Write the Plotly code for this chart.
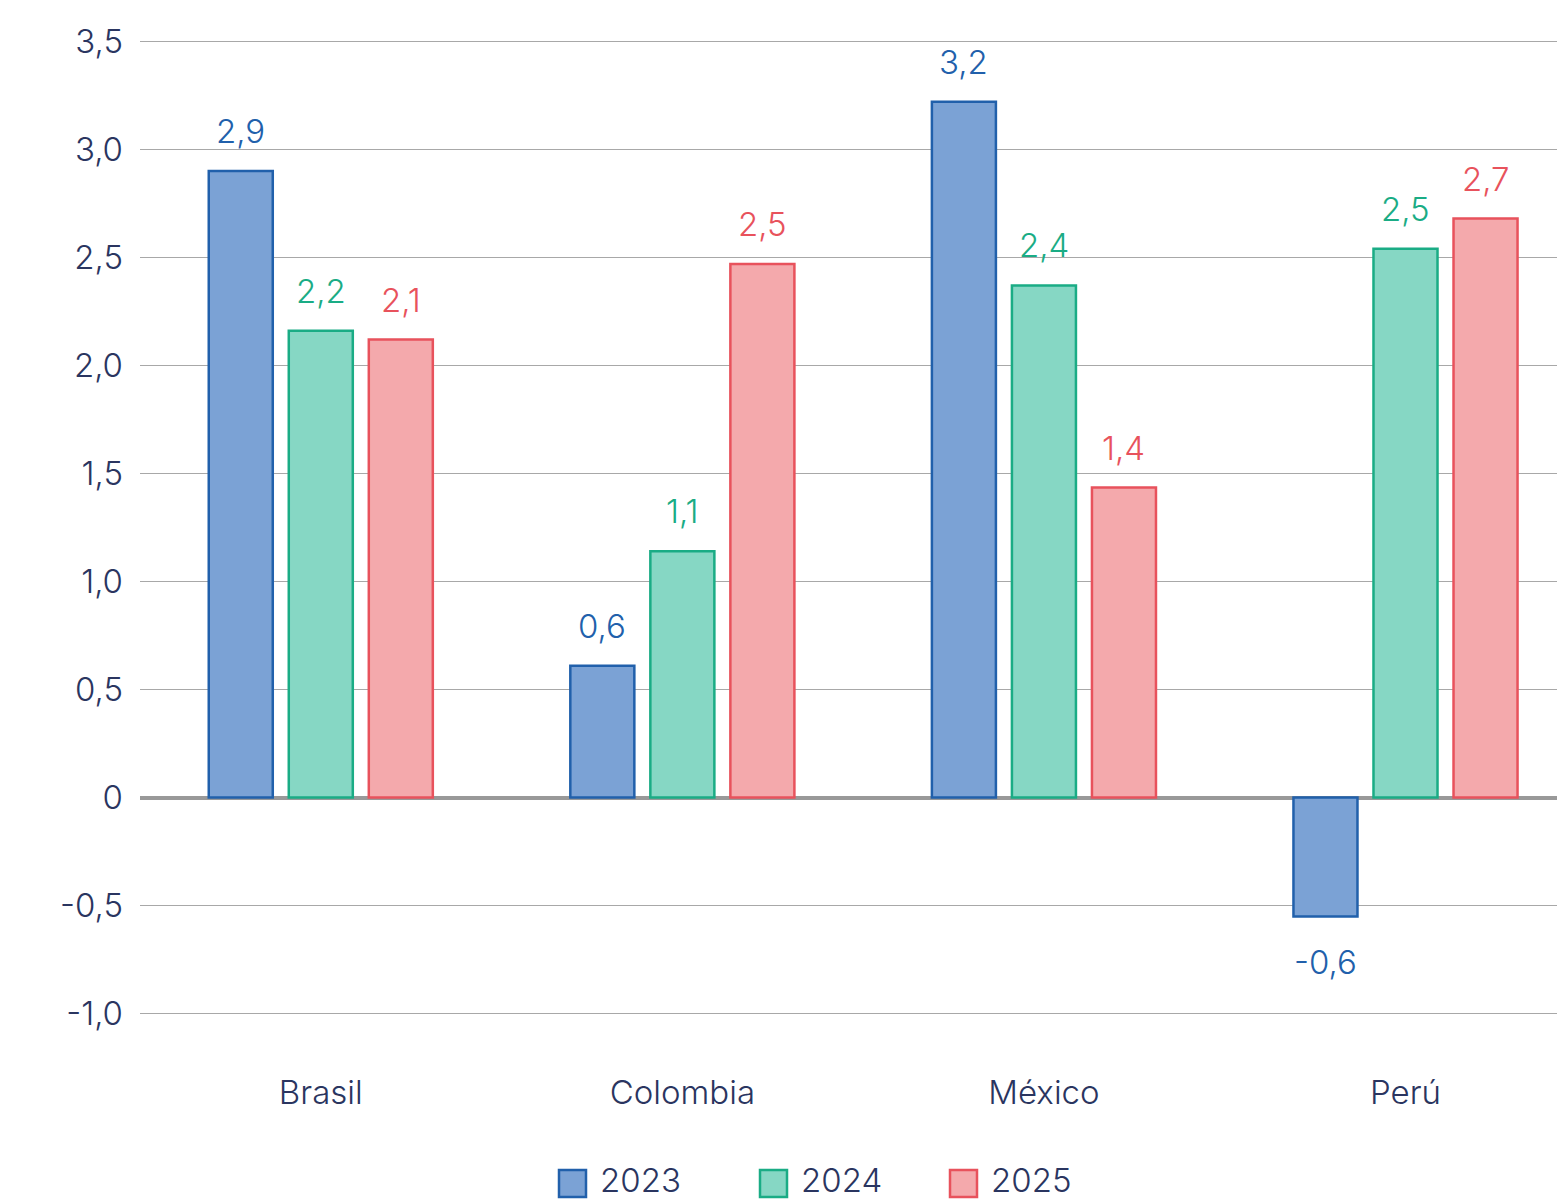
import plotly.graph_objects as go

countries = ["Brasil", "Colombia", "México", "Perú"]
years = ["2023", "2024", "2025"]
v2023 = [2.90, 0.61, 3.22, -0.55]
v2024 = [2.16, 1.14, 2.37, 2.54]
v2025 = [2.12, 2.47, 1.435, 2.68]
lab2023 = ["2,9", "0,6", "3,2", "-0,6"]
lab2024 = ["2,2", "1,1", "2,4", "2,5"]
lab2025 = ["2,1", "2,5", "1,4", "2,7"]
ytickvals = [-1.0, -0.5, 0, 0.5, 1.0, 1.5, 2.0, 2.5, 3.0, 3.5]
yticktext = ["-1,0", "-0,5", "0", "0,5", "1,0", "1,5", "2,0", "2,5", "3,0", "3,5"]

fills = ["#7ba2d5", "#86d7c4", "#f4a9ac"]
lines = ["#2160ab", "#1aac85", "#e8525c"]
FONT = "Inter"
W = 300
TXT = "#2a3560"

BARGAP = 0.336
fig = go.Figure()
series = [v2023, v2024, v2025]
labels = [lab2023, lab2024, lab2025]
for k, (yr, vals) in enumerate(zip(years, series)):
    fig.add_trace(go.Bar(
        x=countries, y=vals, name=yr, showlegend=False,
        marker=dict(color=fills[k], line=dict(color=lines[k], width=2.5)),
    ))

slot = (1 - BARGAP) / 3
annos = []
for k, (vals, labs) in enumerate(zip(series, labels)):
    for i, (v, t) in enumerate(zip(vals, labs)):
        annos.append(dict(
            x=i + (k - 1) * slot, y=v, xref="x", yref="y",
            text=t, showarrow=False,
            yshift=40 if v >= 0 else -46,
            font=dict(family=FONT, size=33, color=lines[k], weight=W),
        ))

# manual legend (plot area: x 140..1557 px, y 37..1018 px)
PL, PW, PB, PH = 140, 1417, 1018, 981
def px_x(p):
    return (p - PL) / PW
def px_y(p):
    return (PB - p) / PH

shapes = []
leg_x = [559, 760, 950]
for k, yr in enumerate(years):
    x0 = leg_x[k]
    shapes.append(dict(
        type="rect", xref="paper", yref="paper",
        x0=px_x(x0), x1=px_x(x0 + 27), y0=px_y(1197), y1=px_y(1170),
        fillcolor=fills[k], line=dict(color=lines[k], width=2.5),
    ))
    annos.append(dict(
        x=px_x(x0 + 40), y=px_y(1180), xref="paper", yref="paper",
        xanchor="left", yanchor="middle", text=yr, showarrow=False,
        borderpad=0,
        font=dict(family=FONT, size=33, color=TXT, weight=W),
    ))

fig.update_layout(
    width=1557, height=1202,
    margin=dict(l=140, r=0, t=37, b=184),
    paper_bgcolor="white", plot_bgcolor="white",
    barmode="group", bargap=BARGAP, bargroupgap=0.2,
    font=dict(family=FONT, color=TXT, weight=W),
    annotations=annos, shapes=shapes,
    showlegend=False,
    xaxis=dict(
        range=[-0.5, 3.419], showgrid=False, showline=False, ticks="",
        tickfont=dict(family=FONT, size=33, color=TXT, weight=W),
        ticklabelstandoff=52,
    ),
    yaxis=dict(
        range=[-1.02, 3.52], tickvals=ytickvals, ticktext=yticktext,
        showgrid=True, gridcolor="#a8a8a8", gridwidth=1,
        zeroline=True, zerolinecolor="#999999", zerolinewidth=3.5,
        showline=False, ticks="",
        tickfont=dict(family=FONT, size=33, color=TXT, weight=W),
        ticklabelstandoff=16,
    ),
)

fig.write_html("out.html")
